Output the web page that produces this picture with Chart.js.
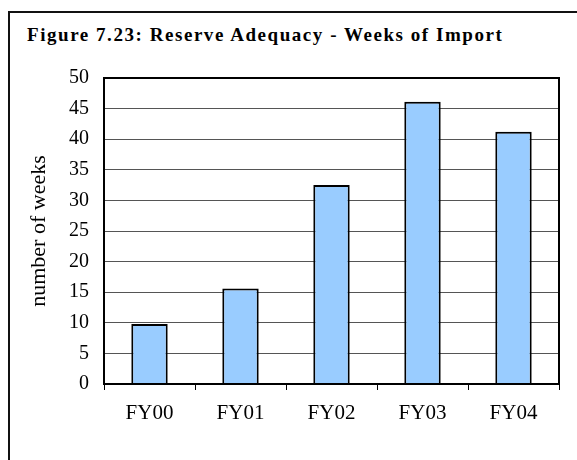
<!DOCTYPE html>
<html>
<head>
<meta charset="utf-8">
<script src="https://cdn.jsdelivr.net/npm/chart.js@4.4.1/dist/chart.umd.min.js"></script>
<style>
  html, body { margin: 0; padding: 0; background: #fff; overflow: hidden; }
  #wrap { position: relative; width: 577px; height: 460px; }
  #frame { position: absolute; left: 8px; top: 11px; width: 620px; height: 520px; border: 2px solid #111; box-sizing: border-box; }
  #title { position: absolute; left: 27px; top: 24px; font-family: "Liberation Serif", "Times New Roman", serif; font-weight: bold; font-size: 19px; letter-spacing: 1.55px; color: #000; white-space: nowrap; }
  canvas { position: absolute; left: 0; top: 0; }
</style>
</head>
<body>
<div id="wrap">
  <div id="frame"></div>
  <div id="title">Figure 7.23: Reserve Adequacy - Weeks of Import</div>
  <canvas id="c" width="577" height="460"></canvas>
</div>
<script>
const categories = ["FY00", "FY01", "FY02", "FY03", "FY04"];
const weeksOfImport = [9.8, 15.6, 32.5, 46.1, 41.2];
const yAxisTitle = "number of weeks";
const yMin = 0, yMax = 50, yStep = 5;

const serif = '"Liberation Serif", "Times New Roman", serif';

const frameBorder = {
  id: 'frameBorder',
  afterDatasetsDraw(chart) {
    const a = chart.chartArea, ctx = chart.ctx;
    ctx.save();
    ctx.strokeStyle = '#000';
    ctx.lineWidth = 2;
    ctx.strokeRect(a.left, a.top, a.right - a.left, a.bottom - a.top);
    ctx.restore();
  }
};

new Chart(document.getElementById('c'), {
  type: 'bar',
  data: {
    labels: categories,
    datasets: [{
      data: weeksOfImport,
      backgroundColor: '#99CCFF',
      borderColor: '#000',
      borderWidth: 2,
      categoryPercentage: 1,
      barPercentage: 0.4
    }]
  },
  options: {
    responsive: false,
    animation: false,
    devicePixelRatio: 1,
    layout: { padding: { top: 78, right: 18, left: 0, bottom: 0 } },
    plugins: { legend: { display: false }, tooltip: { enabled: false }, title: { display: false } },
    scales: {
      x: {
        afterFit(scale) { scale.height = 76; },
        grid: { offset: true, drawOnChartArea: false, color: '#000', tickLength: 6, lineWidth: 1 },
        border: { color: '#000', width: 2 },
        ticks: { color: '#000', font: { family: serif, size: 21 }, padding: 11 }
      },
      y: {
        min: yMin, max: yMax,
        afterFit(scale) { scale.width = 104; },
        grid: { color: '#555', lineWidth: 1, drawTicks: false },
        border: { color: '#000', width: 2 },
        ticks: { stepSize: yStep, color: '#000', font: { family: serif, size: 20 }, padding: 15 },
        title: { display: true, text: yAxisTitle, color: '#000', font: { family: serif, size: 22 }, padding: { top: 26, bottom: 0 } }
      }
    }
  },
  plugins: [frameBorder]
});
</script>
</body>
</html>
